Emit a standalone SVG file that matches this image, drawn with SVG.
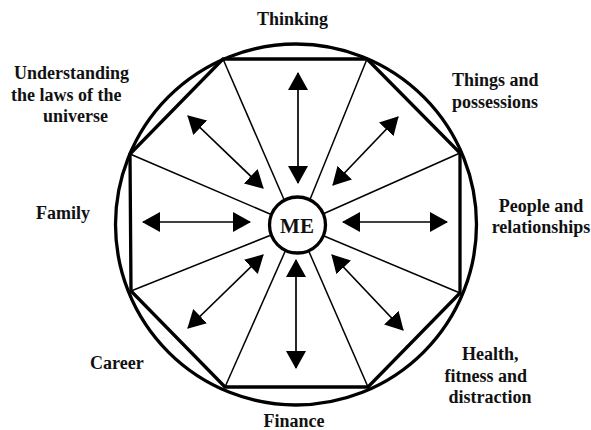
<svg xmlns="http://www.w3.org/2000/svg" width="591" height="430" viewBox="0 0 591 430">
  <style>
    text { font-family: 'Liberation Serif', 'Times New Roman', Times, serif; font-weight: 700; font-size: 18px; fill: #111; }
    .mid { text-anchor: middle; }
    .thick { fill: none; stroke: #000; stroke-width: 3.3; }
    .spoke { stroke: #000; stroke-width: 1.5; fill: none; }
    .arrow { stroke: #000; stroke-width: 1.7; fill: none; }
  </style>
  <defs>
    <marker id="head" viewBox="0 0 18 20" refX="17" refY="10" markerWidth="18" markerHeight="20" markerUnits="userSpaceOnUse" orient="auto-start-reverse">
      <path d="M0,0 L18,10 L0,20 Z" fill="#000"/>
    </marker>
  </defs>
  <rect width="591" height="430" fill="#fff"/>

  <g id="frame">
    <circle cx="296" cy="224.5" r="180.5" class="thick"/>
    <polygon points="223,59 367,59 460,153 460,293 368,387 225,387 131,291 130,154" class="thick" stroke-linejoin="miter"/>
  </g>

  <g id="connectors">
    <line class="spoke" x1="223" y1="59" x2="284" y2="199.5"/>
    <line class="spoke" x1="367" y1="59" x2="310" y2="199.5"/>
    <line class="spoke" x1="460" y1="153" x2="324" y2="213.5"/>
    <line class="spoke" x1="460" y1="293" x2="324" y2="236"/>
    <line class="spoke" x1="368" y1="387" x2="308.5" y2="250.5"/>
    <line class="spoke" x1="225" y1="387" x2="285.5" y2="250.5"/>
    <line class="spoke" x1="131" y1="291" x2="270" y2="235.5"/>
    <line class="spoke" x1="130" y1="154" x2="270" y2="214"/>

    <line class="arrow" x1="298" y1="183" x2="298" y2="73" marker-start="url(#head)" marker-end="url(#head)"/>
    <line class="arrow" x1="296" y1="260" x2="296" y2="368" marker-start="url(#head)" marker-end="url(#head)"/>
    <line class="arrow" x1="250" y1="222" x2="143" y2="222" marker-start="url(#head)" marker-end="url(#head)"/>
    <line class="arrow" x1="343" y1="222" x2="447" y2="222" marker-start="url(#head)" marker-end="url(#head)"/>
    <line class="arrow" x1="263" y1="188" x2="188" y2="116" marker-start="url(#head)" marker-end="url(#head)"/>
    <line class="arrow" x1="333" y1="185" x2="398" y2="117" marker-start="url(#head)" marker-end="url(#head)"/>
    <line class="arrow" x1="263" y1="255" x2="188" y2="328" marker-start="url(#head)" marker-end="url(#head)"/>
    <line class="arrow" x1="332" y1="255" x2="403" y2="330" marker-start="url(#head)" marker-end="url(#head)"/>
  </g>

  <g id="me">
    <circle cx="297.5" cy="225" r="28" fill="#fff" stroke="#000" stroke-width="3.3"/>
    <text x="297" y="233" class="mid" style="font-size:21px">ME</text>
  </g>

  <g id="thinking"><text x="292.5" y="25" class="mid">Thinking</text></g>
  <g id="understanding">
    <text x="14" y="79">Understanding</text>
    <text x="11" y="100.7">the laws of the</text>
    <text x="43" y="122">universe</text>
  </g>
  <g id="things">
    <text x="452" y="86">Things and</text>
    <text x="452" y="108">possessions</text>
  </g>
  <g id="people">
    <text x="541" y="211.5" class="mid">People and</text>
    <text x="541" y="233" class="mid">relationships</text>
  </g>
  <g id="family"><text x="36" y="218.5">Family</text></g>
  <g id="career"><text x="90" y="369">Career</text></g>
  <g id="health">
    <text x="462" y="360">Health,</text>
    <text x="444.5" y="381.7">fitness and</text>
    <text x="448.5" y="403">distraction</text>
  </g>
  <g id="finance"><text x="294" y="427" class="mid">Finance</text></g>
</svg>
